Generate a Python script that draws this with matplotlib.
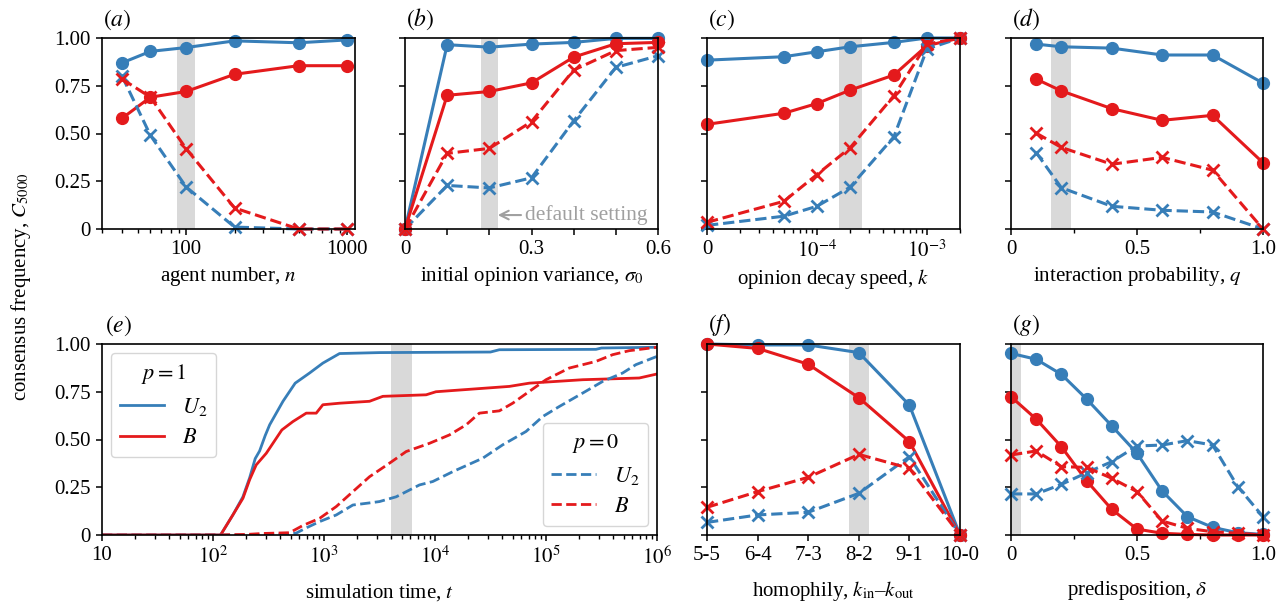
import numpy as np
import matplotlib
matplotlib.use('Agg')
import matplotlib.pyplot as plt
from matplotlib.ticker import LogLocator, NullFormatter, FixedLocator

plt.rcParams.update({
    'font.family': 'serif',
    'font.serif': ['Liberation Serif', 'DejaVu Serif'],
    'mathtext.fontset': 'stix',
    'font.size': 15,
    'axes.linewidth': 1.2,
    'xtick.direction': 'out',
    'ytick.direction': 'out',
    'xtick.major.size': 4.5,
    'ytick.major.size': 4.5,
    'xtick.minor.size': 2.8,
    'xtick.major.width': 1.1,
    'ytick.major.width': 1.1,
    'xtick.minor.width': 1.0,
})

BLUE = '#377eb8'
RED = '#e41a1c'
BAND = '#d9d9d9'

# ---- data ----
# (a) agent number
n_vals = [40, 60, 100, 200, 500, 1000]
a_u1 = [0.87, 0.93, 0.95, 0.985, 0.975, 0.99]
a_b1 = [0.58, 0.69, 0.72, 0.81, 0.855, 0.855]
a_u0 = [0.80, 0.49, 0.22, 0.01, 0.0, 0.0]
a_b0 = [0.785, 0.69, 0.42, 0.11, 0.0, 0.0]

# (b) initial opinion variance
sig_vals = [0, 0.1, 0.2, 0.3, 0.4, 0.5, 0.6]
b_u1 = [0.0, 0.965, 0.952, 0.968, 0.977, 0.998, 0.998]
b_b1 = [0.0, 0.70, 0.72, 0.765, 0.90, 0.97, 0.977]
b_u0 = [0.0, 0.228, 0.215, 0.268, 0.566, 0.846, 0.907]
b_b0 = [0.0, 0.396, 0.422, 0.562, 0.832, 0.934, 0.951]

# (c) opinion decay speed (k = 0 is drawn at 1e-5 on the log axis)
k_vals = [1e-5, 5e-5, 1e-4, 2e-4, 5e-4, 1e-3, 2e-3]
c_u1 = [0.884, 0.902, 0.928, 0.954, 0.977, 1.0, 1.0]
c_b1 = [0.548, 0.606, 0.657, 0.727, 0.806, 0.96, 1.0]
c_u0 = [0.019, 0.067, 0.119, 0.219, 0.482, 0.942, 1.0]
c_b0 = [0.035, 0.145, 0.285, 0.425, 0.697, 0.968, 1.0]

# (d) interaction probability
q_vals = [0.1, 0.2, 0.4, 0.6, 0.8, 1.0]
d_u1 = [0.968, 0.954, 0.947, 0.911, 0.911, 0.764]
d_b1 = [0.785, 0.723, 0.63, 0.569, 0.595, 0.347]
d_u0 = [0.40, 0.216, 0.119, 0.098, 0.089, 0.0]
d_b0 = [0.502, 0.427, 0.339, 0.375, 0.308, 0.0]

# (f) homophily
homo_labels = ['5-5', '6-4', '7-3', '8-2', '9-1', '10-0']
f_u1 = [1.0, 0.995, 0.995, 0.955, 0.68, 0.0]
f_b1 = [1.0, 0.977, 0.894, 0.719, 0.489, 0.0]
f_u0 = [0.066, 0.105, 0.119, 0.218, 0.41, 0.0]
f_b0 = [0.145, 0.227, 0.302, 0.422, 0.349, 0.0]

# (g) predisposition
delta_vals = [0, 0.1, 0.2, 0.3, 0.4, 0.5, 0.6, 0.7, 0.8, 0.9, 1.0]
g_u1 = [0.951, 0.92, 0.841, 0.712, 0.571, 0.428, 0.23, 0.096, 0.04, 0.012, 0.003]
g_b1 = [0.724, 0.607, 0.462, 0.284, 0.134, 0.031, 0.009, 0.003, 0.0, 0.0, 0.0]
g_u0 = [0.215, 0.215, 0.265, 0.326, 0.384, 0.466, 0.471, 0.494, 0.471, 0.253, 0.096]
g_b0 = [0.419, 0.44, 0.358, 0.354, 0.297, 0.227, 0.073, 0.035, 0.017, 0.009, 0.0]

# (e) consensus frequency over simulation time
t_u1 = [10, 117, 151, 186, 214, 240, 263, 295, 324, 427, 550, 741, 977, 1380,
        3160, 31600, 38000, 282000, 316000, 1e6]
e_u1 = [0, 0, 0.105, 0.2, 0.30, 0.40, 0.44, 0.52, 0.577, 0.70, 0.795, 0.848,
        0.90, 0.95, 0.955, 0.958, 0.97, 0.972, 0.979, 0.983]
t_b1 = [10, 117, 151, 186, 214, 245, 302, 417, 525, 692, 851, 977, 1380, 2570,
        3390, 8320, 10200, 46800, 70800, 214000, 692000, 1e6]
e_b1 = [0, 0, 0.105, 0.192, 0.29, 0.367, 0.428, 0.55, 0.594, 0.638, 0.638, 0.682,
        0.69, 0.70, 0.726, 0.734, 0.75, 0.778, 0.795, 0.813, 0.822, 0.843]
t_u0 = [10, 316, 562, 708, 912, 1290, 1820, 2570, 3160, 4470, 7240, 9550, 14500,
        26900, 40700, 66100, 93300, 132000, 214000, 324000, 490000, 646000, 1e6]
e_u0 = [0, 0, 0.01, 0.04, 0.07, 0.105, 0.157, 0.168, 0.175, 0.2, 0.262, 0.28, 0.332,
        0.402, 0.472, 0.542, 0.62, 0.673, 0.743, 0.804, 0.848, 0.892, 0.935]
t_b0 = [10, 100, 200, 282, 490, 646, 912, 1290, 1820, 2570, 3890, 5500, 8910, 13500,
        19100, 25100, 38000, 50100, 70800, 100000, 162000, 282000, 398000, 562000, 1e6]
e_b0 = [0, 0, 0.003, 0.008, 0.012, 0.05, 0.087, 0.149, 0.227, 0.305, 0.376, 0.437,
        0.48, 0.524, 0.577, 0.638, 0.65, 0.69, 0.752, 0.813, 0.874, 0.909, 0.944,
        0.965, 0.983]

# ---- layout ----
W, H = 1285, 608
fig = plt.figure(figsize=(W / 100, H / 100), dpi=100)


def add_panel(l, t, r, b):
    return fig.add_axes([l / W, 1 - b / H, (r - l) / W, (b - t) / H])


def style(ax, letter, ylabels=False):
    ax.set_ylim(0, 1)
    ax.set_yticks([0, 0.25, 0.5, 0.75, 1.0])
    if ylabels:
        ax.set_yticklabels(['0', '0.25', '0.50', '0.75', '1.00'])
    else:
        ax.set_yticklabels([])
    ax.text(0.005, 1.03, '$(' + letter + ')$', transform=ax.transAxes,
            ha='left', va='bottom', fontsize=17)
    for s in ax.spines.values():
        s.set_zorder(5)


def four_lines(ax, x, u1, b1, u0, b0):
    kw = dict(lw=2.2, clip_on=False, zorder=3)
    ax.plot(x, u1, color=BLUE, marker='o', ms=8.5, ls='-', **kw)
    ax.plot(x, b1, color=RED, marker='o', ms=8.5, ls='-', **kw)
    ax.plot(x, u0, color=BLUE, marker='x', ms=8, mew=2, ls='--', **kw)
    ax.plot(x, b0, color=RED, marker='x', ms=8, mew=2, ls='--', **kw)


cols = [(102, 355), (405, 658), (707, 960), (1011, 1263)]
top_row = (38, 229)
bot_row = (344, 535)

# (a)
ax = add_panel(cols[0][0], top_row[0], cols[0][1], top_row[1])
ax.axvspan(88, 114, color=BAND, lw=0, zorder=0)
four_lines(ax, n_vals, a_u1, a_b1, a_u0, a_b0)
ax.set_xscale('log')
ax.set_xlim(30, 1120)
ax.set_xticks([100, 1000])
ax.set_xticklabels(['100', '1000'])
ax.xaxis.set_minor_locator(LogLocator(subs=np.arange(2, 10)))
ax.xaxis.set_minor_formatter(NullFormatter())
ax.set_xlabel('agent number, $n$')
style(ax, 'a', ylabels=True)

# (b)
ax = add_panel(cols[1][0], top_row[0], cols[1][1], top_row[1])
ax.axvspan(0.18, 0.22, color=BAND, lw=0, zorder=0)
four_lines(ax, sig_vals, b_u1, b_b1, b_u0, b_b0)
ax.set_xlim(0, 0.6)
ax.set_xticks(sig_vals)
ax.set_xticklabels(['0', '', '', '0.3', '', '', '0.6'])
ax.set_xlabel(r'initial opinion variance, $\sigma_0$')
ax.annotate('default setting', xy=(0.22, 0.073), xytext=(0.285, 0.073),
            color='#a0a0a0', fontsize=15.5, va='center', ha='left',
            arrowprops=dict(arrowstyle='->', color='#a0a0a0', lw=1.5,
                            shrinkA=1, shrinkB=0))
style(ax, 'b')

# (c)
ax = add_panel(cols[2][0], top_row[0], cols[2][1], top_row[1])
ax.axvspan(1.6e-4, 2.55e-4, color=BAND, lw=0, zorder=0)
four_lines(ax, k_vals, c_u1, c_b1, c_u0, c_b0)
ax.set_xscale('log')
ax.set_xlim(1e-5, 2e-3)
ax.set_xticks([1e-5, 1e-4, 1e-3])
ax.set_xticklabels(['0', '$10^{-4}$', '$10^{-3}$'])
ax.xaxis.set_minor_locator(LogLocator(subs=np.arange(2, 10)))
ax.xaxis.set_minor_formatter(NullFormatter())
ax.set_xlabel('opinion decay speed, $k$')
style(ax, 'c')

# (d)
ax = add_panel(cols[3][0], top_row[0], cols[3][1], top_row[1])
ax.axvspan(0.16, 0.24, color=BAND, lw=0, zorder=0)
four_lines(ax, q_vals, d_u1, d_b1, d_u0, d_b0)
ax.set_xlim(0, 1)
ax.set_xticks([0, 0.5, 1.0])
ax.set_xticklabels(['0', '0.5', '1.0'])
ax.xaxis.set_minor_locator(FixedLocator([0.25, 0.75]))
ax.set_xlabel('interaction probability, $q$')
style(ax, 'd')

# (e)
ax = add_panel(cols[0][0], bot_row[0], 657, bot_row[1])
ax.axvspan(4000, 6200, color=BAND, lw=0, zorder=0)
h_u1, = ax.plot(t_u1, e_u1, color=BLUE, lw=2.0, ls='-', zorder=3)
h_b1, = ax.plot(t_b1, e_b1, color=RED, lw=2.0, ls='-', zorder=3)
h_u0, = ax.plot(t_u0, e_u0, color=BLUE, lw=2.0, ls='--', zorder=3)
h_b0, = ax.plot(t_b0, e_b0, color=RED, lw=2.0, ls='--', zorder=3)
ax.set_xscale('log')
ax.set_xlim(10, 1e6)
ax.set_xticks([10, 1e2, 1e3, 1e4, 1e5, 1e6])
ax.set_xticklabels(['10', '$10^2$', '$10^3$', '$10^4$', '$10^5$', '$10^6$'])
ax.xaxis.set_minor_locator(LogLocator(subs=np.arange(2, 10)))
ax.xaxis.set_minor_formatter(NullFormatter())
ax.set_xlabel('simulation time, $t$', labelpad=10)
leg1 = ax.legend([h_u1, h_b1], ['$U_2$', '$B$'], title='$p=1$', loc='upper left',
                 fontsize=16, title_fontsize=16, edgecolor='#cccccc',
                 borderaxespad=0.4, handlelength=2.0, labelspacing=0.45)
ax.add_artist(leg1)
ax.legend([h_u0, h_b0], ['$U_2$', '$B$'], title='$p=0$', loc='lower right',
          fontsize=16, title_fontsize=16, edgecolor='#cccccc',
          borderaxespad=0.4, handlelength=2.0, labelspacing=0.45)
style(ax, 'e', ylabels=True)

# (f)
ax = add_panel(cols[2][0], bot_row[0], cols[2][1], bot_row[1])
xf = np.arange(len(homo_labels))
ax.axvspan(2.8, 3.2, color=BAND, lw=0, zorder=0)
four_lines(ax, xf, f_u1, f_b1, f_u0, f_b0)
ax.set_xlim(0, 5)
ax.set_xticks(xf)
ax.set_xticklabels(homo_labels)
ax.set_xlabel(r'homophily, $k_{\mathrm{in}}$–$k_{\mathrm{out}}$', labelpad=10)
style(ax, 'f')

# (g)
ax = add_panel(cols[3][0], bot_row[0], cols[3][1], bot_row[1])
ax.axvspan(-0.04, 0.04, color=BAND, lw=0, zorder=0)
four_lines(ax, delta_vals, g_u1, g_b1, g_u0, g_b0)
ax.set_xlim(0, 1)
ax.set_xticks([0, 0.5, 1.0])
ax.set_xticklabels(['0', '0.5', '1.0'])
ax.xaxis.set_minor_locator(FixedLocator([0.25, 0.75]))
ax.set_xlabel(r'predisposition, $\delta$', labelpad=10)
style(ax, 'g')

fig.text(21 / W, 1 - 286.5 / H, 'consensus frequency, $C_{5000}$', rotation=90,
         ha='center', va='center', fontsize=15)

fig.savefig('out.png', dpi=100)
